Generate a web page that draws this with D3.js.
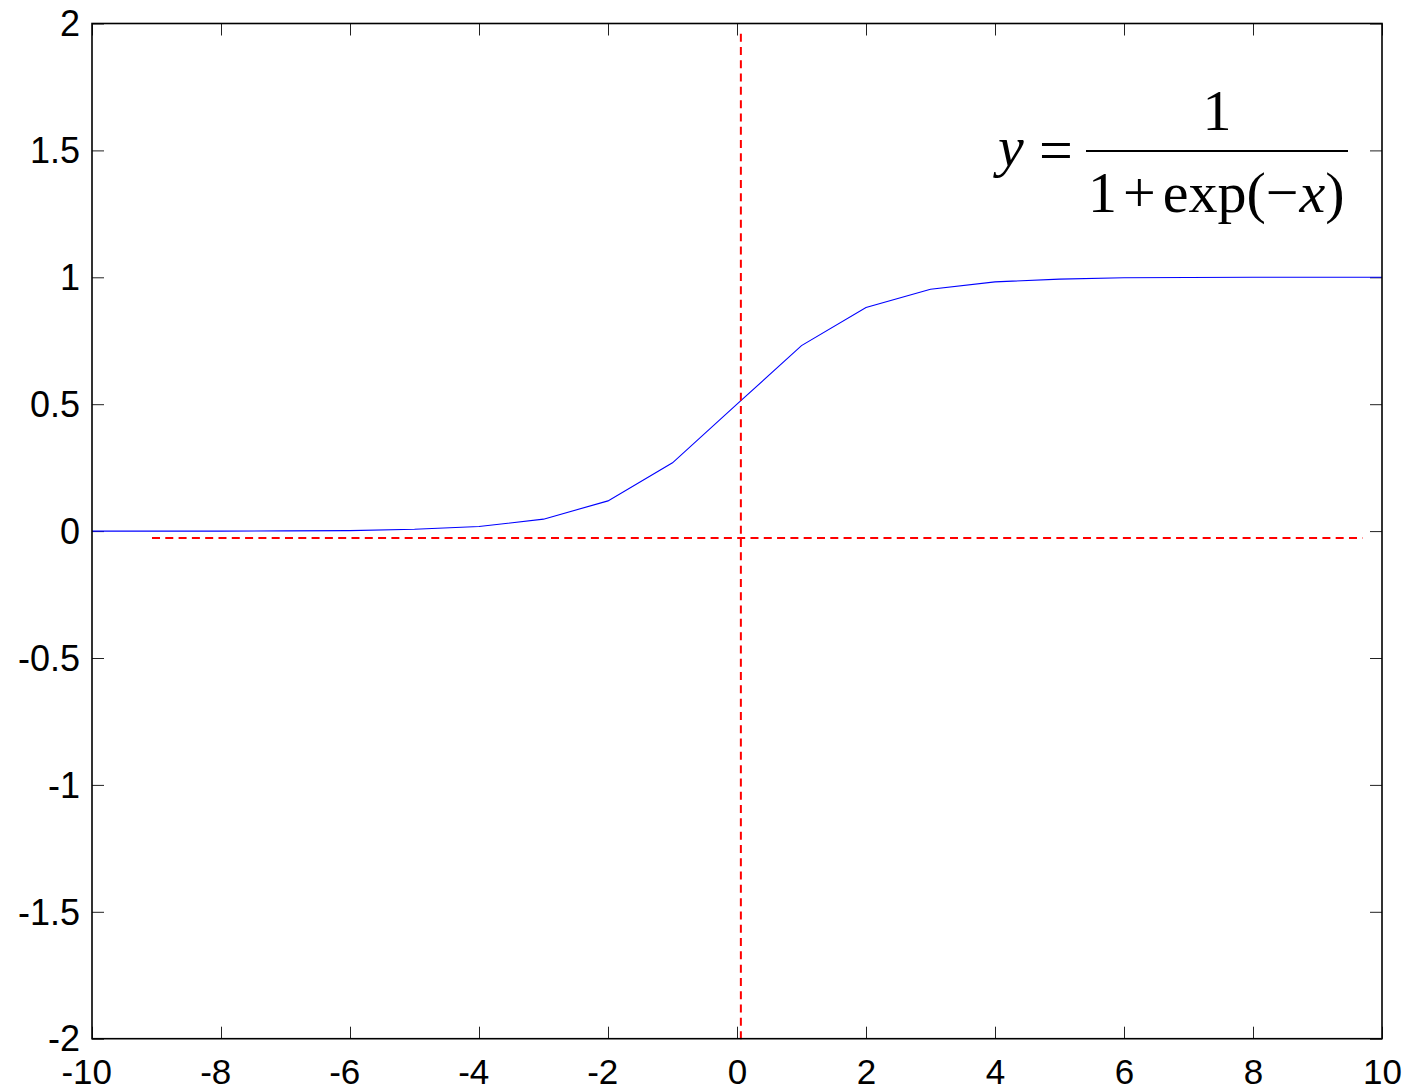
<!DOCTYPE html>
<html><head><meta charset="utf-8">
<script src="https://cdn.jsdelivr.net/npm/d3@7"></script>
<style>html,body{margin:0;padding:0;background:#fff;}svg{display:block;}</style>
</head><body>
<svg id="chart" width="1410" height="1092"></svg>
<script>
const xValues = [-10,-9,-8,-7,-6,-5,-4,-3,-2,-1,0,1,2,3,4,5,6,7,8,9,10];
const yValues = [0.000,0.000,0.000,0.001,0.002,0.007,0.018,0.047,0.119,0.269,0.5,0.731,0.881,0.953,0.982,0.993,0.998,0.999,1.0,1.0,1.0];
const xTicks = [-10,-8,-6,-4,-2,0,2,4,6,8,10];
const yTicks = [-2,-1.5,-1,-0.5,0,0.5,1,1.5,2];
const hLine = {x0:-9.07, x1:9.7, y:-0.027};
const vLine = {x:0.06, y0:1.96, y1:-2.015};

const svg = d3.select("#chart");
const L = 92, R = 1382, T = 23.5, B = 1038.7;
const x = d3.scaleLinear().domain([-10,10]).range([L,R]);
const y = d3.scaleLinear().domain([-2,2]).range([B,T]);
const font = "'Liberation Sans', Arial, sans-serif";
const fs = 36, fsx = 35;
const fmt = d => String(d).replace("\u2212","-");

// ticks via axes (inward)
const tl = 12;
svg.append("g").attr("transform",`translate(0,${B})`)
  .call(d3.axisBottom(x).tickValues(xTicks).tickSize(-tl).tickPadding(20).tickFormat(fmt))
  .call(g=>{g.select(".domain").remove();g.selectAll("line").attr("stroke","#222");
    g.selectAll("text").attr("font-family",font).attr("font-size",fsx).attr("fill","#000")
      .attr("dy","0.71em").attr("y",20).attr("dx",d=>d<0?-fsx*0.333/2:0);});
svg.append("g").attr("transform",`translate(0,${T})`)
  .call(d3.axisTop(x).tickValues(xTicks).tickSize(-tl).tickFormat(""))
  .call(g=>{g.select(".domain").remove();g.selectAll("line").attr("stroke","#222");});
svg.append("g").attr("transform",`translate(${L},0)`)
  .call(d3.axisLeft(y).tickValues(yTicks).tickSize(-tl).tickPadding(12).tickFormat(fmt))
  .call(g=>{g.select(".domain").remove();g.selectAll("line").attr("stroke","#222");
    g.selectAll("text").attr("font-family",font).attr("font-size",fs).attr("fill","#000").attr("dy","0.34em");});
svg.append("g").attr("transform",`translate(${R},0)`)
  .call(d3.axisRight(y).tickValues(yTicks).tickSize(-tl).tickFormat(""))
  .call(g=>{g.select(".domain").remove();g.selectAll("line").attr("stroke","#222");});

// curve
const line = d3.line().x((d,i)=>x(xValues[i])).y(d=>y(d));
svg.append("path").datum(yValues).attr("d",line)
  .attr("fill","none").attr("stroke","#0000ff").attr("stroke-width",1.1);

// dashed red lines
svg.append("line").attr("x1",x(hLine.x0)).attr("x2",x(hLine.x1)).attr("y1",y(hLine.y)).attr("y2",y(hLine.y))
  .attr("stroke","#ff0000").attr("stroke-width",2).attr("stroke-dasharray","8,5.3");
svg.append("line").attr("x1",x(vLine.x)).attr("x2",x(vLine.x)).attr("y1",y(vLine.y0)).attr("y2",y(vLine.y1))
  .attr("stroke","#ff0000").attr("stroke-width",2).attr("stroke-dasharray","8,5.3");

// box
svg.append("rect").attr("x",L).attr("y",T).attr("width",R-L).attr("height",B-T)
  .attr("fill","none").attr("stroke","#000").attr("stroke-width",1.6);

// formula
const serif = "'Liberation Serif','Times New Roman',serif";
const fg = svg.append("g").attr("font-family",serif).attr("font-size",58).attr("fill","#000");
fg.append("text").attr("x",998).attr("y",166).attr("font-style","italic").text("y");
fg.append("text").attr("x",1039).attr("y",170).attr("font-size",60).text("=");
fg.append("line").attr("x1",1086).attr("x2",1348).attr("y1",151).attr("y2",151).attr("stroke","#000").attr("stroke-width",2.2);
fg.append("text").attr("x",1217).attr("y",130).attr("text-anchor","middle").text("1");
const den = fg.append("text").attr("x",1088).attr("y",212);
den.append("tspan").text("1");
den.append("tspan").attr("dx",6).text("+");
den.append("tspan").attr("dx",7).text("exp(\u2212");
den.append("tspan").attr("dx",1).attr("font-style","italic").text("x");
den.append("tspan").attr("dx",0).text(")");
</script>
</body></html>
